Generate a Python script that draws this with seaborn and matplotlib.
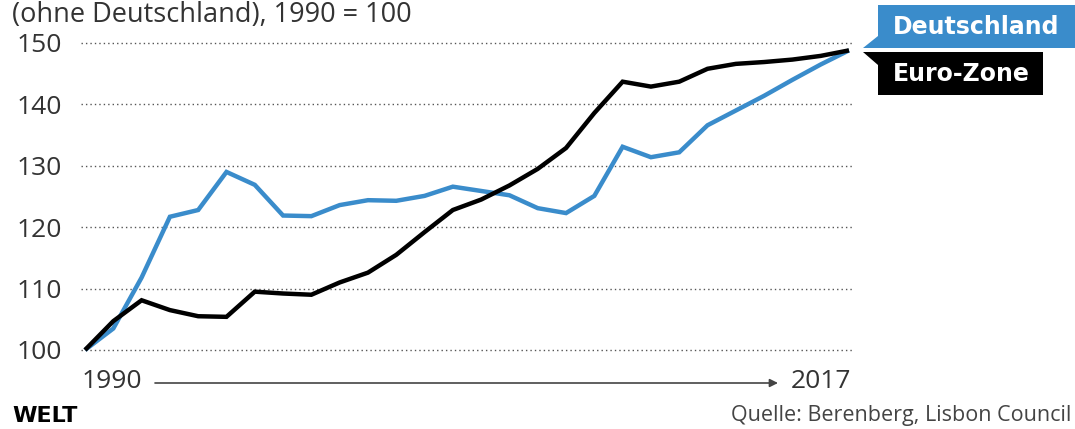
import matplotlib
matplotlib.use("Agg")
import matplotlib.pyplot as plt
from matplotlib.patches import Polygon
import seaborn as sns
import pandas as pd

# Daten (1990 = 100)
years = list(range(1990, 2018))
deutschland = [100, 103.5, 111.8, 121.7, 122.8, 129.0, 126.9, 121.9, 121.8, 123.6,
               124.4, 124.3, 125.1, 126.6, 125.9, 125.2, 123.1, 122.3, 125.1, 133.1,
               131.4, 132.2, 136.6, 139.0, 141.4, 144.0, 146.5, 148.8]
euro_zone = [100, 104.7, 108.1, 106.5, 105.5, 105.4, 109.5, 109.2, 109.0, 111.0,
             112.6, 115.5, 119.2, 122.8, 124.5, 126.8, 129.5, 132.9, 138.6, 143.7,
             142.9, 143.7, 145.8, 146.6, 146.9, 147.3, 147.9, 148.8]
y_ticks = [100, 110, 120, 130, 140, 150]
series_names = ["Deutschland", "Euro-Zone"]

BLUE = "#3a8ccb"
BLACK = "#000000"
GREY = "#333333"
W, H = 1075, 429

sns.set_theme(style="white")
plt.rcParams["font.family"] = ["Open Sans", "DejaVu Sans"]

df = pd.DataFrame({"Jahr": years * 2,
                   "Wert": deutschland + euro_zone,
                   "Reihe": [series_names[0]] * len(years) + [series_names[1]] * len(years)})

fig = plt.figure(figsize=(W / 100, H / 100), dpi=100)
fig.patch.set_facecolor("white")


def px(x, y):
    return (x / W, 1 - y / H)


# Achse: 1990 -> px 85, 2017 -> px 849 ; 100 -> px 350, 150 -> px 43
x_per_year = (849 - 85) / 27
y_per_unit = (350 - 43) / 50
x0, x1 = 81, 853
y_lo, y_hi = 98, 152
ax_bottom = 350 + (100 - y_lo) * y_per_unit
ax_top = 43 - (y_hi - 150) * y_per_unit
ax = fig.add_axes([x0 / W, 1 - ax_bottom / H, (x1 - x0) / W, (ax_bottom - ax_top) / H])
ax.set_xlim(1990 - (85 - x0) / x_per_year, 2017 + (x1 - 849) / x_per_year)
ax.set_ylim(y_lo, y_hi)

for v in y_ticks:
    ax.axhline(v, color="#555555", lw=1.0, ls=(0, (1, 2.2)), zorder=1)

sns.lineplot(data=df, x="Jahr", y="Wert", hue="Reihe", palette=[BLUE, BLACK],
             hue_order=series_names, linewidth=3.2, legend=False, ax=ax, zorder=3)
for line in ax.get_lines()[-2:]:
    line.set_solid_joinstyle("miter")
    line.set_solid_capstyle("butt")

ax.set_xticks([])
ax.set_yticks(y_ticks)
ax.set_yticklabels([str(v) for v in y_ticks], fontsize=19, color=GREY)
ax.tick_params(axis="y", length=0, pad=14)
ax.set_xlabel("")
ax.set_ylabel("")
for s in ax.spines.values():
    s.set_visible(False)
ax.patch.set_alpha(0)

# Titel
fig.text(*px(12, 22), "(ohne Deutschland), 1990 = 100", fontsize=19.5, color=GREY,
         va="baseline", ha="left")

# Zeitachse mit Pfeil
fig.text(*px(112, 382), str(years[0]), fontsize=19, color=GREY, ha="center", va="center")
fig.text(*px(821, 382), str(years[-1]), fontsize=19, color=GREY, ha="center", va="center")
ax.annotate("", xy=px(778, 383), xytext=px(155, 383), xycoords="figure fraction",
            textcoords="figure fraction",
            arrowprops=dict(arrowstyle="-|>", color="#444444", lw=1.2,
                            mutation_scale=12, shrinkA=0, shrinkB=0))

# Beschriftungskästen
blue_box = [(878, 5), (1075, 5), (1075, 48), (863, 48), (878, 36)]
black_box = [(863, 52), (1043, 52), (1043, 95), (878, 95), (878, 65)]
fig.add_artist(Polygon([px(*p) for p in blue_box], closed=True, facecolor=BLUE,
                       edgecolor="none", transform=fig.transFigure))
fig.add_artist(Polygon([px(*p) for p in black_box], closed=True, facecolor=BLACK,
                       edgecolor="none", transform=fig.transFigure))
fig.text(*px(976, 27), series_names[0], fontsize=17, fontweight="bold", color="white",
         family="DejaVu Sans", ha="center", va="center")
fig.text(*px(961, 74), series_names[1], fontsize=17, fontweight="bold", color="white",
         family="DejaVu Sans", ha="center", va="center")

# Logo und Quelle
fig.text(*px(12, 416), "WELT", fontsize=16, fontweight="bold", color="black",
         family="DejaVu Sans", ha="left", va="center")
fig.text(*px(1071, 415), "Quelle: Berenberg, Lisbon Council", fontsize=15.5, color="#444444",
         ha="right", va="center")

fig.savefig("out.png", dpi=100)
